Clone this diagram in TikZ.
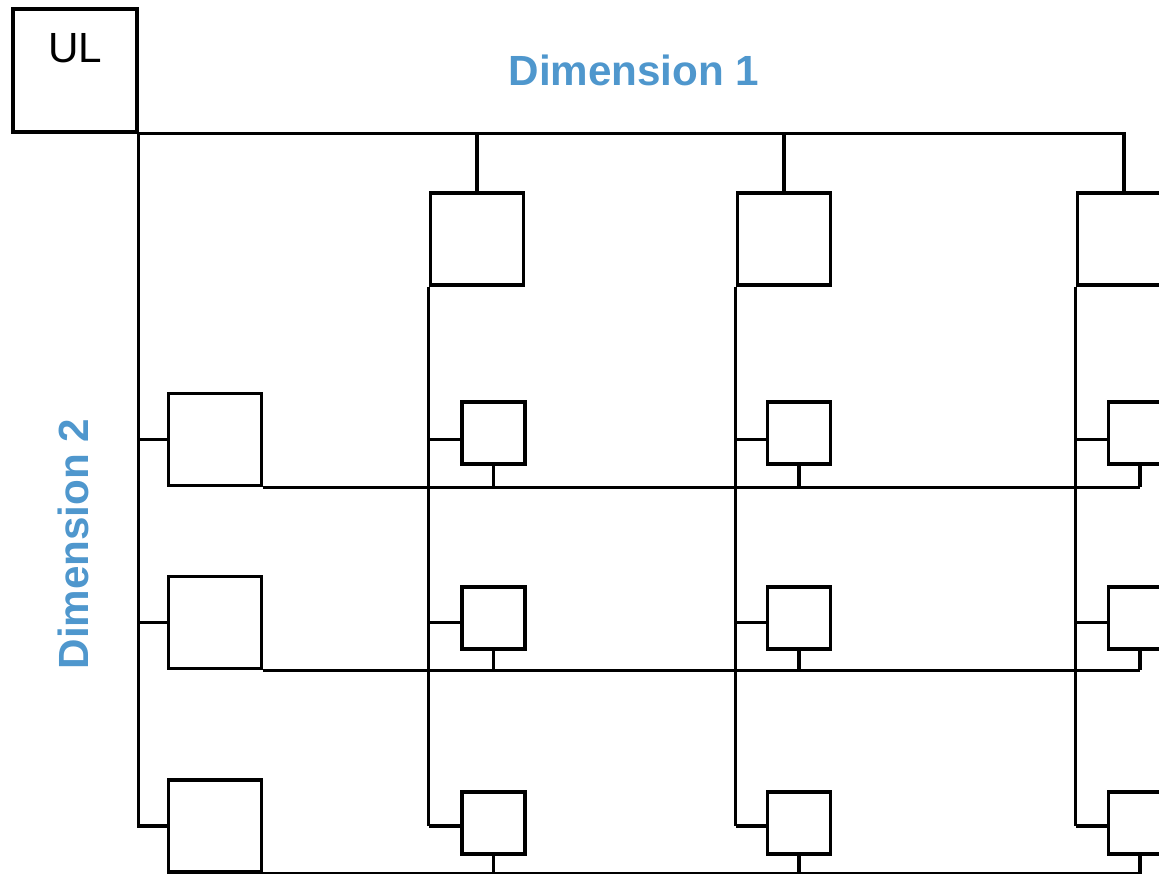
\documentclass[tikz,border=0pt]{standalone}
\usepackage{fontspec}
\setmainfont{Liberation Sans}
\usepackage{xcolor}
\usepackage{tikz}
\definecolor{dimblue}{RGB}{79,151,205}
\tikzset{
  unitbox/.style={draw, line width=0.9pt, inner sep=0pt},
  bigunit/.style={unitbox, minimum width=0.93cm, minimum height=0.92cm},
  smallunit/.style={unitbox, minimum width=0.63cm, minimum height=0.62cm},
  wire/.style={line width=0.9pt},
  dimlabel/.style={text=dimblue, font=\fontsize{12}{14}\selectfont\bfseries}
}

\begin{document}
\begin{tikzpicture}[x=0.01cm, y=-0.01cm]
\useasboundingbox (0,0) rectangle (1159,874);

	\node[unitbox, minimum width=1.24cm, minimum height=1.23cm] (ul) at (75,70.5) {}; % UL box
	\node[font=\fontsize{12}{14}\selectfont] (ultext) at (75,48) {UL}; % UL label
	\node[dimlabel] (dimone) at (634,70) {Dimension 1}; % Label along the top
	\node[dimlabel, rotate=90] (dimtwo) at (73,544) {Dimension 2}; % Label along the left side

    % Units of dimension 1
	\node[bigunit] (c1) at (477,239) {};
	\node[bigunit] (c2) at (784,239) {};
	\node[bigunit] (c3) at (1124,239) {};
    % Units of dimension 2
	\node[bigunit] (r1) at (215,439.5) {};
	\node[bigunit] (r2) at (215,622.5) {};
	\node[bigunit] (r3) at (215,826) {};
    % Small units of the grid (row, column)
	\node[smallunit] (u11) at (493.5,433) {};
	\node[smallunit] (u12) at (799,433) {};
	\node[smallunit] (u13) at (1140,433) {};
	\node[smallunit] (u21) at (493.5,618) {};
	\node[smallunit] (u22) at (799,618) {};
	\node[smallunit] (u23) at (1140,618) {};
	\node[smallunit] (u31) at (493.5,823) {};
	\node[smallunit] (u32) at (799,823) {};
	\node[smallunit] (u33) at (1140,823) {};

	\draw[wire] (ul.south east) -- (c3.north |- ul.south) -- (c3.north); % Top bus
	\draw[wire] (c1.north |- ul.south) -- (c1.north);
	\draw[wire] (c2.north |- ul.south) -- (c2.north);
	\draw[wire] (ul.south east) -- (ul.south east |- r3.west) -- (r3.west); % Left bus
	\draw[wire] (ul.south east |- r1.west) -- (r1.west);
	\draw[wire] (ul.south east |- r2.west) -- (r2.west);

	\foreach \c in {1,2,3}{
	  \draw[wire] (c\c.south west) -- (c\c.south west |- r3.west); % Column line
	  \foreach \r in {1,2,3}{
	    \draw[wire] (c\c.south west |- r\r.west) -- (u\r\c.west |- r\r.west); % Stub in
	    \draw[wire] (u\r\c.south) -- (u\r\c.south |- r\r.south east); % Stub out
	  }
	}
	\foreach \r in {1,2,3}
	  \draw[wire] (r\r.south east) -- (u\r3.south |- r\r.south east); % Row line

\end{tikzpicture}
\end{document}
